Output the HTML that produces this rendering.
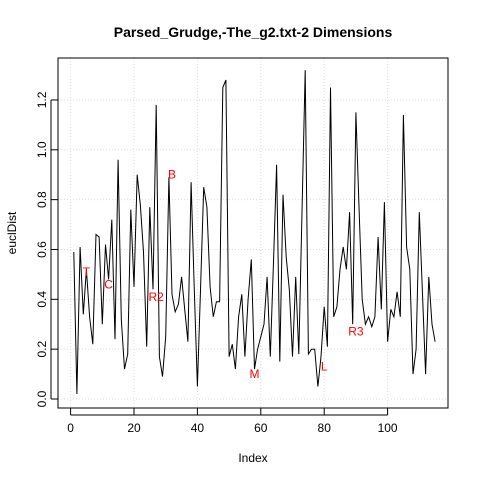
<!DOCTYPE html>
<html><head><meta charset="utf-8"><style>
body{margin:0;background:#fff;}
text{font-family:"Liberation Sans",sans-serif;}
</style></head><body>
<svg id="chart" width="480" height="480" xmlns="http://www.w3.org/2000/svg">
<rect width="480" height="480" fill="#fff"/>
<text x="253" y="37" text-anchor="middle" font-size="14" font-weight="bold">Parsed_Grudge,-The_g2.txt-2 Dimensions</text>
<text x="253" y="462" text-anchor="middle" font-size="12">Index</text>
<text transform="translate(16,233) rotate(-90)" text-anchor="middle" font-size="12">euclDist</text>
<g id="grid"></g>
<g id="axes"></g>
<path id="line" fill="none" stroke="#000" stroke-width="1"/>
<g id="labels"></g>
<rect x="58" y="58" width="390" height="350" fill="none" stroke="#000"/>
</svg>
<script>
const values=[0.59,0.02,0.61,0.34,0.52,0.33,0.22,0.66,0.65,0.30,0.62,0.48,0.72,0.24,0.96,0.32,0.12,0.18,0.76,0.45,0.90,0.78,0.59,0.21,0.77,0.44,1.18,0.17,0.09,0.25,0.89,0.42,0.35,0.38,0.49,0.36,0.23,0.87,0.45,0.05,0.45,0.85,0.77,0.45,0.33,0.39,0.39,1.25,1.28,0.17,0.22,0.12,0.33,0.42,0.17,0.40,0.56,0.12,0.20,0.25,0.30,0.49,0.17,0.55,0.94,0.15,0.82,0.57,0.44,0.17,0.49,0.18,0.75,1.32,0.18,0.20,0.20,0.05,0.17,0.37,0.21,1.25,0.33,0.37,0.52,0.61,0.52,0.75,0.30,1.15,0.76,0.40,0.30,0.33,0.29,0.33,0.65,0.36,0.79,0.23,0.36,0.33,0.43,0.33,1.14,0.61,0.52,0.10,0.20,0.75,0.42,0.10,0.49,0.30,0.23];
const xTicks=[0,20,40,60,80,100];
const yTicks=[0.0,0.2,0.4,0.6,0.8,1.0,1.2];
const yTickLabels=["0.0","0.2","0.4","0.6","0.8","1.0","1.2"];
const pointLabels=["T","C","R2","B","M","L","R3"];
const labelIdx=[5,12,27,32,58,80,90];
const labelVal=[0.51,0.46,0.41,0.90,0.10,0.13,0.27];
const NS="http://www.w3.org/2000/svg";
const sx=i=>70.6+3.17*i, sy=v=>399-249.2*v;
function mk(t,a,p){const e=document.createElementNS(NS,t);for(const k in a)e.setAttribute(k,a[k]);p.appendChild(e);return e;}
const grid=document.getElementById('grid'),axes=document.getElementById('axes');
xTicks.forEach(t=>{
 const g=mk('line',{x1:sx(t),x2:sx(t),y1:58,y2:408,stroke:'#ddd','stroke-dasharray':'1,2'},grid);
 
 
 const l=mk('line',{x1:sx(t),x2:sx(t),y1:408,y2:415,stroke:'#000'},axes);
 
 
 const tx=mk('text',{x:sx(t),y:432,'text-anchor':'middle','font-size':12},axes);tx.textContent=t;
 
 
});
mk('line',{x1:sx(0),x2:sx(100),y1:415,y2:415,stroke:'#000'},axes);
yTicks.forEach((t,i)=>{
 const g=mk('line',{x1:58,x2:448,y1:sy(t),y2:sy(t),stroke:'#ddd','stroke-dasharray':'1,2'},grid);
 
 
 const l=mk('line',{x1:51,x2:58,y1:sy(t),y2:sy(t),stroke:'#000'},axes);
 
 
 const tx=mk('text',{transform:`translate(46,${sy(t)}) rotate(-90)`,'text-anchor':'middle','font-size':12},axes);tx.textContent=yTickLabels[i];
 
 
});
mk('line',{x1:51,x2:51,y1:sy(0),y2:sy(1.2),stroke:'#000'},axes);
document.getElementById('line').setAttribute('d',values.map((v,i)=>(i?'L':'M')+sx(i+1).toFixed(1)+','+sy(v).toFixed(1)).join(''));
const lg=document.getElementById('labels');
pointLabels.forEach((s,i)=>{
 const t=mk('text',{x:sx(labelIdx[i]),y:sy(labelVal[i])+4,'text-anchor':'middle','font-size':12,fill:'#f00'},lg);t.textContent=s;
 
 
});
</script>
</body></html>
